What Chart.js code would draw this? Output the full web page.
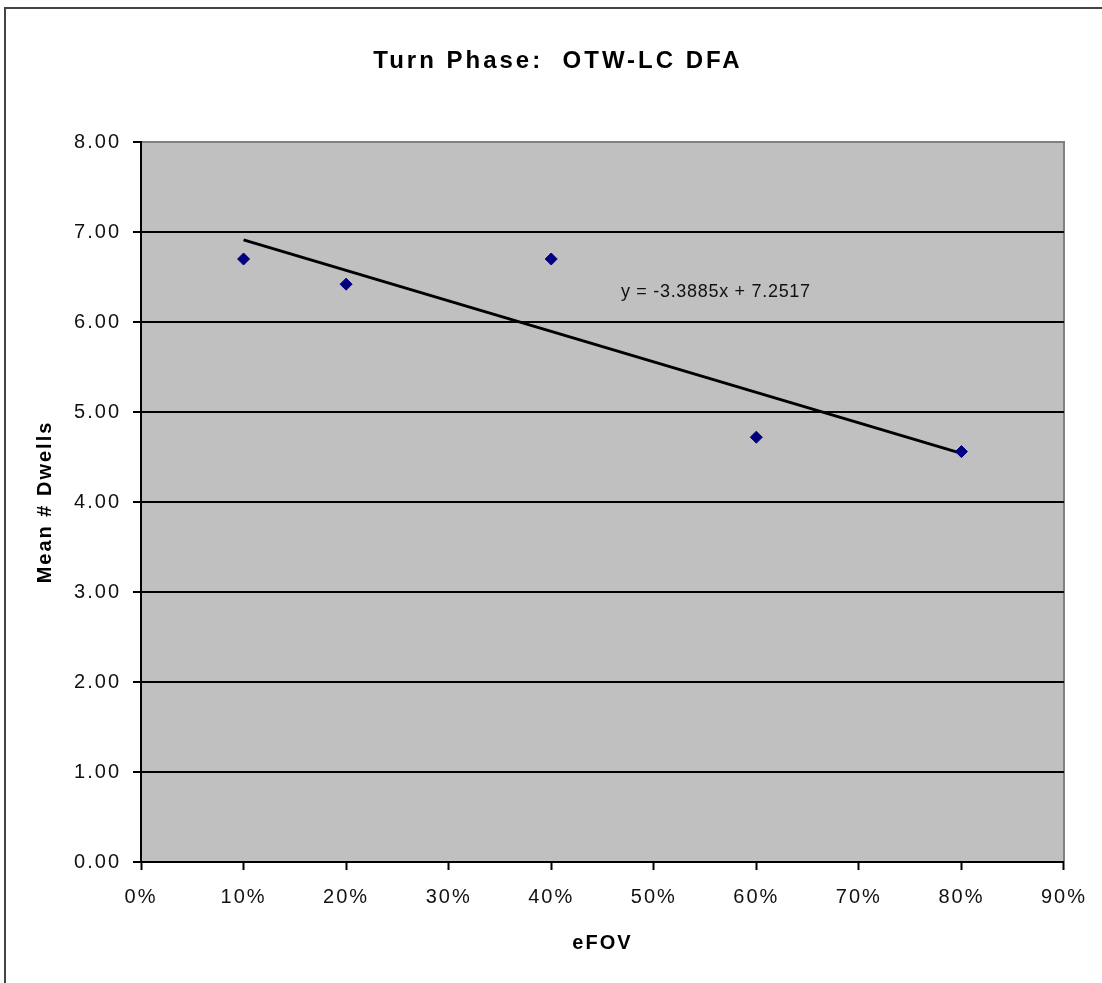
<!DOCTYPE html>
<html>
<head>
<meta charset="utf-8">
<script src="https://cdn.jsdelivr.net/npm/chart.js@4/dist/chart.umd.min.js"></script>
<style>
  html, body { margin: 0; padding: 0; background: #fff; }
  #wrap { width: 1102px; height: 983px; }
</style>
</head>
<body>
<div id="wrap"><canvas id="chart" width="1102" height="983"></canvas></div>
<script>
// eFOV (as fraction) and mean number of dwells
const efov = [0.10, 0.20, 0.40, 0.60, 0.80];
const meanDwells = [6.70, 6.42, 6.70, 4.72, 4.56];

// linear trendline shown on the chart
const trendSlope = -3.3885;
const trendIntercept = 7.2517;
const trendLabel = 'y = -3.3885x + 7.2517';

const chartTitle = 'Turn Phase:  OTW-LC DFA';
const xTitle = 'eFOV';
const yTitle = 'Mean # Dwells';

const FONT = '"Liberation Sans", Arial, sans-serif';

const scatterPoints = efov.map((x, i) => ({ x: x, y: meanDwells[i] }));
const xMin = Math.min(...efov), xMax = Math.max(...efov);
const trendPoints = [xMin, xMax].map(x => ({ x: x, y: trendSlope * x + trendIntercept }));

function spacing(chart) {
    chart.ctx.letterSpacing = '2px';
}

const framePlugin = {
    id: 'frame',
    beforeInit: spacing,
    beforeUpdate: spacing,
    beforeDraw(chart) {
        const { ctx, chartArea: a } = chart;
        spacing(chart);
        ctx.save();
        // outer chart border
        ctx.strokeStyle = '#444';
        ctx.lineWidth = 2;
        ctx.beginPath();
        ctx.moveTo(1102, 8);
        ctx.lineTo(5, 8);
        ctx.lineTo(5, 983);
        ctx.stroke();
        // title
        ctx.letterSpacing = '3px';
        ctx.font = 'bold 24px ' + FONT;
        ctx.fillStyle = '#000';
        ctx.textAlign = 'center';
        ctx.textBaseline = 'middle';
        ctx.fillText(chartTitle, 558, 61);
        // plot area
        ctx.fillStyle = '#c0c0c0';
        ctx.fillRect(a.left, a.top, a.right - a.left, a.bottom - a.top);
        ctx.strokeStyle = '#808080';
        ctx.strokeRect(a.left, a.top, a.right - a.left, a.bottom - a.top);
        ctx.restore();
    },
    afterDatasetsDraw(chart) {
        const { ctx, scales } = chart;
        ctx.save();
        ctx.letterSpacing = '0.7px';
        ctx.font = '18px ' + FONT;
        ctx.fillStyle = '#111';
        ctx.textAlign = 'left';
        ctx.textBaseline = 'middle';
        ctx.fillText(trendLabel, scales.x.getPixelForValue(0.468), scales.y.getPixelForValue(6.33));
        ctx.restore();
    }
};

new Chart(document.getElementById('chart'), {
    type: 'scatter',
    data: {
        datasets: [
            {
                label: 'Mean # Dwells',
                data: scatterPoints,
                pointStyle: 'rectRot',
                pointRadius: 6,
                pointHoverRadius: 6,
                backgroundColor: '#000080',
                borderColor: '#000080',
                borderWidth: 1,
                order: 1
            },
            {
                label: 'Linear trend',
                type: 'line',
                data: trendPoints,
                borderColor: '#000',
                borderWidth: 3,
                pointRadius: 0,
                fill: false,
                order: 2
            }
        ]
    },
    options: {
        responsive: false,
        animation: false,
        layout: { padding: { left: 0, right: 38, top: 142, bottom: 0 } },
        plugins: {
            legend: { display: false },
            tooltip: { enabled: false },
            title: { display: false }
        },
        scales: {
            x: {
                type: 'linear',
                min: 0,
                max: 0.9,
                afterFit: s => { s.height = 121; },
                ticks: {
                    stepSize: 0.1,
                    color: '#111',
                    padding: 15,
                    font: { family: FONT, size: 20 },
                    callback: v => Math.round(v * 100) + '%'
                },
                grid: { drawOnChartArea: false, drawTicks: true, tickLength: 8, tickColor: '#000', tickWidth: 2 },
                border: { display: true, color: '#000', width: 2 },
                title: {
                    display: true,
                    text: xTitle,
                    color: '#000',
                    font: { family: FONT, size: 20, weight: 'bold' },
                    padding: { top: 0, bottom: 28 }
                }
            },
            y: {
                type: 'linear',
                min: 0,
                max: 8,
                afterFit: s => { s.width = 141; },
                ticks: {
                    stepSize: 1,
                    color: '#111',
                    padding: 12,
                    font: { family: FONT, size: 20 },
                    callback: v => v.toFixed(2)
                },
                grid: {
                    color: c => (c.tick && c.tick.value === 8) ? '#808080' : '#000',
                    lineWidth: 2,
                    tickLength: 8,
                    tickColor: '#000',
                    tickWidth: 2
                },
                border: { display: true, color: '#000', width: 2 },
                title: {
                    display: true,
                    text: yTitle,
                    color: '#000',
                    font: { family: FONT, size: 20, weight: 'bold' },
                    padding: { top: 33, bottom: 0 }
                }
            }
        }
    },
    plugins: [framePlugin]
});
</script>
</body>
</html>
